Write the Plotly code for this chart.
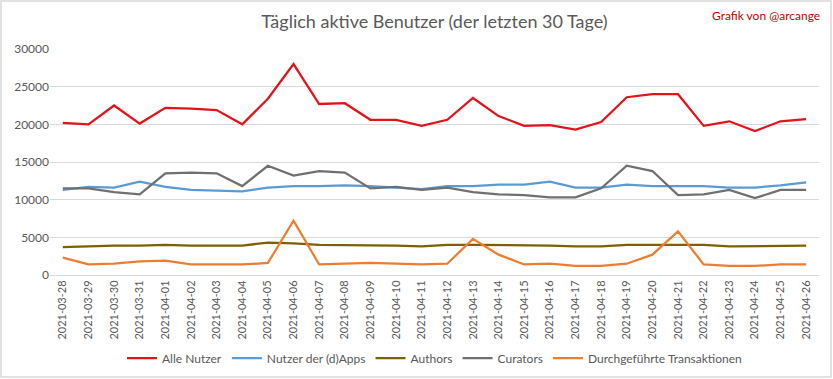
import plotly.graph_objects as go

dates = ["2021-03-28","2021-03-29","2021-03-30","2021-03-31","2021-04-01","2021-04-02","2021-04-03",
         "2021-04-04","2021-04-05","2021-04-06","2021-04-07","2021-04-08","2021-04-09","2021-04-10",
         "2021-04-11","2021-04-12","2021-04-13","2021-04-14","2021-04-15","2021-04-16","2021-04-17",
         "2021-04-18","2021-04-19","2021-04-20","2021-04-21","2021-04-22","2021-04-23","2021-04-24",
         "2021-04-25","2021-04-26"]

alle_nutzer = [20200, 20000, 22500, 20100, 22200, 22100, 21900, 20000, 23400, 28000,
               22700, 22800, 20600, 20600, 19800, 20600, 23500, 21100, 19800, 19900,
               19300, 20300, 23600, 24000, 24000, 19800, 20400, 19100, 20400, 20700]
dapps = [11300, 11700, 11600, 12400, 11700, 11300, 11200, 11100, 11600, 11800,
         11800, 11900, 11800, 11600, 11400, 11800, 11800, 12000, 12000, 12400,
         11600, 11600, 12000, 11800, 11800, 11800, 11600, 11600, 11900, 12300]
authors = [3700, 3800, 3900, 3900, 4000, 3900, 3900, 3900, 4300, 4200,
           4000, 4000, 4000, 3900, 3800, 4000, 4000, 4000, 4000, 3900,
           3800, 3800, 4000, 4000, 4000, 4000, 3800, 3800, 3800, 3900]
curators = [11500, 11500, 11000, 10700, 13500, 13600, 13500, 11800, 14500, 13200,
            13800, 13600, 11500, 11700, 11300, 11600, 11000, 10700, 10600, 10300,
            10300, 11500, 14500, 13800, 10600, 10700, 11300, 10200, 11300, 11300]
transaktionen = [2300, 1400, 1500, 1800, 1900, 1400, 1400, 1400, 1600, 7200,
                 1400, 1500, 1600, 1500, 1400, 1500, 4800, 2700, 1400, 1500,
                 1200, 1200, 1500, 2700, 5800, 1400, 1200, 1200, 1400, 1400]

series = [
    ("Alle Nutzer", alle_nutzer, "#E3121B"),
    ("Nutzer der (d)Apps", dapps, "#5B9BD5"),
    ("Authors", authors, "#7F6000"),
    ("Curators", curators, "#707070"),
    ("Durchgeführte Transaktionen", transaktionen, "#ED7D31"),
]

FONT = "Lato, Roboto, sans-serif"
W, H = 833, 379
L, R, T, B = 50, 14, 49, 104
PW, PH = W - L - R, H - T - B

fig = go.Figure()
for name, vals, col in series:
    fig.add_trace(go.Scatter(x=dates, y=vals, name=name, mode="lines",
                             line=dict(color=col, width=2.25)))

fig.update_layout(
    width=W, height=H,
    margin=dict(l=L, r=R, t=T, b=B, autoexpand=False),
    paper_bgcolor="white", plot_bgcolor="white",
    font=dict(family=FONT, color="#595959", size=12),
    title=dict(text="Täglich aktive Benutzer (der letzten 30 Tage)", x=0.5, xanchor="center",
               xref="paper", y=1 - 22 / H, yanchor="middle",
               font=dict(size=18, color="#595959", family=FONT)),
    showlegend=True,
    legend=dict(orientation="h", x=0.5, xanchor="center", y=1 - 358 / H, yanchor="middle",
                yref="container", font=dict(size=12, color="#595959"),
                itemwidth=30, tracegroupgap=0),
    xaxis=dict(type="category", range=[-0.5, 29.5], tickangle=-90, showgrid=False,
               automargin=False, showline=True, linecolor="#D9D9D9", ticks="",
               tickfont=dict(size=11, color="#595959")),
    yaxis=dict(range=[0, 30000], dtick=5000, tickformat="d", showgrid=True, gridcolor="#D9D9D9",
               automargin=False, zeroline=False, showline=False, ticks="",
               tickfont=dict(size=12, color="#595959")),
    annotations=[dict(text="Grafik von @arcange", xref="paper", yref="paper",
                      x=(822 - L) / PW, y=1 + (T - 15) / PH, xanchor="right", yanchor="middle",
                      showarrow=False, font=dict(size=12, color="#C00000", family=FONT))],
    shapes=[dict(type="rect", xref="paper", yref="paper",
                 x0=-(L - 1) / PW, x1=1 + (R - 2) / PW, y0=-(B - 2) / PH, y1=1 + (T - 1) / PH,
                 line=dict(color="#D9D9D9", width=1.5), fillcolor="rgba(0,0,0,0)")],
)

fig.write_html("out.html", config={"displayModeBar": False},
               post_script="document.body.style.margin='0';document.body.style.overflow='hidden';")
